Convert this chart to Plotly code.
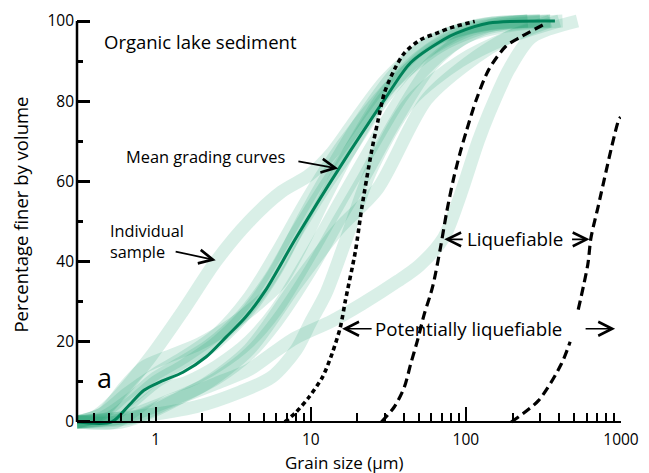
import math
import plotly.graph_objects as go

# ---------------- data ----------------
mean_x = [0.31, 0.52, 0.66, 0.84, 1.07, 1.5, 2.11, 2.83, 3.79, 5.08, 8.06, 15.2, 30, 44, 72, 87, 141, 375]
mean_y = [0, 0, 3.8, 7.9, 10, 12.4, 16.2, 21.1, 26.1, 32.7, 46, 63.2, 80.5, 89.6, 95.4, 97, 99.5, 100]

pot_x = [6.8, 8.06, 9.78, 11.9, 13.7, 15.5, 16.7, 19.4, 21.3, 24.6, 27.0, 29.9, 34.6, 40.1, 51.3, 65.2, 79.4, 114]
pot_y = [0, 2.5, 6.3, 11.2, 17, 23.6, 30.2, 42.6, 53.3, 67.3, 74.8, 82.2, 87.9, 92, 95.4, 97, 98.3, 99.9]

liq_low_x = [28.5, 34.6, 40.1, 44.1, 48.7, 53.9, 59.2, 62.2, 68.5, 75.3, 83.3, 92, 101, 117, 141, 181, 230, 316]
liq_low_y = [0, 3.8, 8.7, 14.5, 20.3, 26.9, 31.9, 35.1, 43.4, 52.5, 60.7, 67.3, 72.7, 80.5, 88, 93.7, 96.2, 99.1]

liq_high_x = [196, 294.6, 413, 470, None, 530, 611, 640, 708, 972, 994]
liq_high_y = [0, 5.4, 14.5, 20, None, 28, 39.3, 45.9, 53.3, 75.6, 76]

samples = {
    "S1": ([0.31, 0.405, 0.57, 0.925, 1.5, 2.45, 4, 6.47, 9.8, 13.8, 20, 30, 50, 80, 150, 300],
           [0, 1.3, 6.3, 16.2, 27.7, 40.1, 50, 57.4, 61.6, 67.3, 76, 85, 93, 97, 99.5, 100]),
    "S2": ([0.31, 0.45, 0.63, 0.84, 1.18, 1.92, 3.12, 5.07, 6.47, 9, 12, 18, 30, 50, 100, 250],
           [0, 2, 8.7, 13.7, 16.2, 19.5, 24.4, 31, 35.1, 45, 55, 68, 82, 91, 98, 100]),
    "R": ([0.31, 0.7, 1.3, 2.45, 3.98, 5.6, 8, 13.7, 21.3, 36.3, 50, 72, 92, 120, 141, 190, 266, 524],
          [0, 1, 5.4, 9.6, 13, 17, 21, 25.2, 29.4, 35.1, 39, 46, 56.5, 70, 77, 88, 96, 100]),
    "L2": ([0.31, 0.8, 1.82, 3.5, 5.6, 8.05, 10, 12.5, 16.7, 24.6, 44, 92, 190, 400],
           [0, 1.5, 3.8, 7.5, 11.2, 18, 25, 32, 45, 63, 80, 90, 96, 100]),
    "M2": ([0.31, 0.6, 1, 2, 4, 8.05, 15, 27, 56, 116, 190, 350],
           [0, 1, 4, 9, 18, 34.3, 48, 58.2, 80.5, 91, 96, 100]),
    "B1": ([0.31, 0.5, 0.7, 1.0, 1.5, 2.5, 4, 6, 9, 13, 20, 35, 60, 120, 300],
           [0, 1, 5, 10, 14, 20, 28, 38, 51, 62, 74, 87, 95, 99, 100]),
    "B2": ([0.31, 0.55, 0.8, 1.1, 1.6, 2.5, 4, 6, 10, 16, 25, 40, 70, 130, 350],
           [0, 0, 4, 8, 10, 14, 20, 28, 42, 56, 69, 82, 92, 98, 100]),
    "B3": ([0.31, 0.45, 0.7, 1.0, 1.5, 2.2, 3.5, 5.5, 8, 12, 18, 30, 55, 110, 250],
           [0, 1, 6, 11, 15, 19, 26, 36, 47, 58, 68, 81, 92, 98, 100]),
    "B4": ([0.31, 0.6, 1.0, 1.6, 2.5, 4, 6, 10, 15, 22, 35, 60, 100, 200, 420],
           [0, 0, 3, 7, 11, 17, 25, 38, 50, 61, 75, 89, 96, 99, 100]),
    "B5": ([0.31, 0.45, 0.65, 1, 1.5, 2.5, 4, 6, 9, 13, 20, 35, 70, 150, 350],
           [0, 2, 7, 12, 16, 22, 31, 42, 54, 64, 74, 85, 94, 99, 100]),
}

x_ticks = [1, 10, 100, 1000]
x_ticktext = ["1", "10", "100", "1000"]
x_minor = [0.4, 0.5, 0.6, 0.7, 0.8, 0.9, 2, 3, 4, 5, 6, 7, 8, 9,
           20, 30, 40, 50, 60, 70, 80, 90, 200, 300, 400, 500, 600, 700, 800, 900]
y_ticks = [0, 20, 40, 60, 80, 100]
y_minor = [10, 30, 50, 70, 90]

# ---------------- figure ----------------
FONT = "Open Sans"
L, R_, T, B = 77, 18, 10, 43
W, H = 649, 473
PW, PH = W - L - R_, H - T - B
Y0, Y1 = -2, 102


def px(xp):
    return (xp - L) / PW


def py(yp):
    return (H - B - yp) / PH


fig = go.Figure()

for name, (xs, ys) in samples.items():
    fig.add_trace(go.Scatter(x=xs, y=ys, mode="lines", line=dict(color="rgba(30,160,115,0.17)", width=13, shape="spline", smoothing=0.8),
                             hoverinfo="skip", showlegend=False))

fig.add_trace(go.Scatter(x=mean_x, y=mean_y, mode="lines", line=dict(color="#008259", width=3, shape="spline", smoothing=0.8),
                         showlegend=False))
fig.add_trace(go.Scatter(x=pot_x, y=pot_y, mode="lines", line=dict(color="black", width=3.6, dash="4.5px,3.5px", shape="spline", smoothing=0.8),
                         showlegend=False))
fig.add_trace(go.Scatter(x=liq_low_x, y=liq_low_y, mode="lines", line=dict(color="black", width=3.2, dash="9px,5px", shape="spline", smoothing=0.8),
                         showlegend=False))
fig.add_trace(go.Scatter(x=liq_high_x, y=liq_high_y, mode="lines", line=dict(color="black", width=3.2, dash="9px,5px", shape="spline", smoothing=0.8),
                         connectgaps=False, showlegend=False))

fig.update_layout(
    width=W, height=H,
    margin=dict(l=L, r=R_, t=T, b=B),
    paper_bgcolor="white", plot_bgcolor="white",
    font=dict(family=FONT, color="black", size=15),
    showlegend=False,
    xaxis=dict(type="log", range=[math.log10(0.311), 3], anchor="free", position=(0 - Y0) / (Y1 - Y0),
               showline=True, linecolor="black", linewidth=2, showgrid=False, zeroline=False,
               ticks="inside", ticklen=14, tickwidth=1.5, tickcolor="black",
               tickvals=x_ticks, ticktext=x_ticktext, tickfont=dict(size=15.5), ticklabelstandoff=3,
               minor=dict(tickvals=x_minor, ticks="inside", ticklen=8, tickwidth=1.5, tickcolor="black", showgrid=False)),
    yaxis=dict(range=[Y0, Y1], showline=False, showgrid=False, zeroline=False,
               ticks="inside", ticklen=13, tickwidth=2.5, tickcolor="black",
               tickvals=y_ticks, tickfont=dict(size=15.5), ticklabelstandoff=2,
               minor=dict(tickvals=y_minor, ticks="inside", ticklen=6, tickwidth=2.5, tickcolor="black", showgrid=False)),
)

fig.add_shape(type="line", xref="paper", yref="y", x0=0, x1=0, y0=0, y1=100, line=dict(color="black", width=2.5))

def text(t, xp, yp, size=15, xanchor="left", angle=0):
    fig.add_annotation(text=t, xref="paper", yref="paper", x=px(xp), y=py(yp), showarrow=False, align="left",
                       xanchor=xanchor, yanchor="middle", textangle=angle, font=dict(size=size, family=FONT, color="black"))

def arrow(x_tail, y_tail, x_head, y_head):
    fig.add_annotation(text="", xref="paper", yref="paper", x=px(x_head), y=py(y_head),
                       ax=x_tail - x_head, ay=y_tail - y_head, axref="pixel", ayref="pixel",
                       showarrow=True, arrowhead=5, arrowsize=1.6, arrowwidth=1.7, arrowcolor="black", standoff=0)

text("Organic lake sediment", 102, 39, size=18.5)
text("Mean grading curves", 125, 155, size=16.4)
text("Individual<br>sample", 109, 240, size=16.3)
text("a", 95, 377, size=27)
text("Liquefiable", 472, 238, size=18.8)
text("Potentially liquefiable", 378, 328, size=18.7)
text("Percentage finer by volume", 20, 213, size=18.5, xanchor="center", angle=-90)
text("Grain size (µm)", 349, 463, size=17, xanchor="center")

arrow(301.7, 159.3, 343, 166.7)
arrow(176.7, 250, 218.3, 259)
arrow(471, 238, 451, 238)
arrow(580, 238, 599, 238)
arrow(378, 328, 347, 328)
arrow(594, 328, 625, 328)

fig.write_html("out.html", config={"displayModeBar": False},
               post_script="document.body.style.margin='0';document.body.style.padding='0';document.body.style.overflow='hidden';")
